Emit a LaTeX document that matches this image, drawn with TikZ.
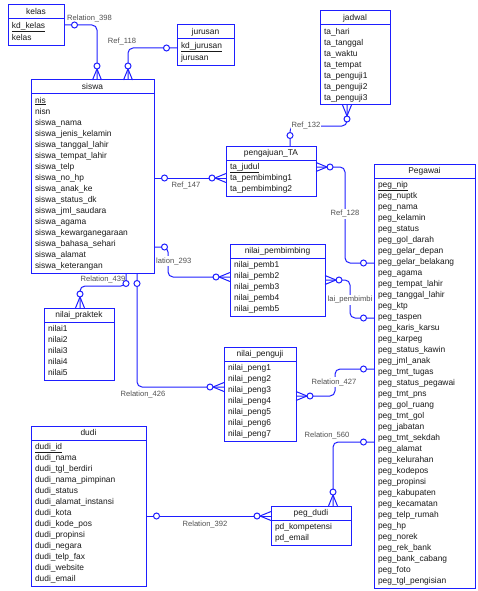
\documentclass[tikz,border=0pt]{standalone}
\usepackage{fontspec}
\setmainfont{Liberation Sans}
\usetikzlibrary{positioning}
\definecolor{erblue}{RGB}{30,30,255}
\definecolor{relgray}{RGB}{80,80,80}
\definecolor{txtgray}{RGB}{25,25,25}
\tikzset{
  enthead/.style={draw=erblue,line width=1pt,fill=white,inner sep=0pt,outer sep=0pt,minimum height=14pt,text height=6.3pt,text depth=1.9pt,text=txtgray,font=\fontsize{8.4}{11}\selectfont},
  entbody/.style={draw=erblue,line width=1pt,fill=white,inner xsep=4pt,inner ysep=1.5pt,outer sep=0pt,align=left,text=txtgray,font=\fontsize{8.4}{11}\selectfont},
  conn/.style={draw=erblue,line width=1pt,rounded corners=5pt},
  marker/.style={draw=erblue,line width=1pt},
  rellabel/.style={text=relgray,inner sep=1pt,font=\fontsize{7.6}{9}\selectfont},
  crowfoot/.pic={\draw[marker] (0,4.5) -- (11,0) -- (0,-4.5); \draw[marker,fill=white] (14,0) circle (3pt);},
  onemark/.pic={\draw[marker,fill=white] (10.5,0) circle (3pt);}
}
\begin{document}
\begin{tikzpicture}[x=1pt,y=-1pt]
            \useasboundingbox (0,0) rectangle (478,591);

            \node[enthead,minimum width=56pt,anchor=north] (kelas) at (36,5) {kelas};
            \node[entbody,text width=48pt,below=0pt of kelas] (kelasb) {\strut\underline{kd\_kelas}\\kelas\strut};

            \node[enthead,minimum width=57pt,anchor=north] (jurusan) at (205.5,25) {jurusan};
            \node[entbody,text width=49pt,below=0pt of jurusan] (jurusanb) {\strut\underline{kd\_jurusan}\\jurusan\strut};

            \node[enthead,minimum width=70pt,anchor=north] (jadwal) at (355,11) {jadwal};
            \node[entbody,text width=62pt,below=0pt of jadwal] (jadwalb) {\strut ta\_hari\\ta\_tanggal\\ta\_waktu\\ta\_tempat\\ta\_penguji1\\ta\_penguji2\\ta\_penguji3\strut};

            \node[enthead,minimum width=123pt,anchor=north] (siswa) at (92.5,80) {siswa};
            \node[entbody,text width=115pt,below=0pt of siswa] (siswab) {\strut\underline{nis}\\nisn\\siswa\_nama\\siswa\_jenis\_kelamin\\siswa\_tanggal\_lahir\\siswa\_tempat\_lahir\\siswa\_telp\\siswa\_no\_hp\\siswa\_anak\_ke\\siswa\_status\_dk\\siswa\_jml\_saudara\\siswa\_agama\\siswa\_kewarganegaraan\\siswa\_bahasa\_sehari\\siswa\_alamat\\siswa\_keterangan\strut};

            \node[enthead,minimum width=90pt,anchor=north] (pengajuan) at (271,146) {pengajuan\_TA};
            \node[entbody,text width=82pt,below=0pt of pengajuan] (pengajuanb) {\strut\underline{ta\_judul}\\ta\_pembimbing1\\ta\_pembimbing2\strut};

            \node[enthead,minimum width=101pt,anchor=north] (pegawai) at (424.5,164) {Pegawai};
            \node[entbody,text width=93pt,below=0pt of pegawai] (pegawaib) {\strut\underline{peg\_nip}\\peg\_nuptk\\peg\_nama\\peg\_kelamin\\peg\_status\\peg\_gol\_darah\\peg\_gelar\_depan\\peg\_gelar\_belakang\\peg\_agama\\peg\_tempat\_lahir\\peg\_tanggal\_lahir\\peg\_ktp\\peg\_taspen\\peg\_karis\_karsu\\peg\_karpeg\\peg\_status\_kawin\\peg\_jml\_anak\\peg\_tmt\_tugas\\peg\_status\_pegawai\\peg\_tmt\_pns\\peg\_gol\_ruang\\peg\_tmt\_gol\\peg\_jabatan\\peg\_tmt\_sekdah\\peg\_alamat\\peg\_kelurahan\\peg\_kodepos\\peg\_propinsi\\peg\_kabupaten\\peg\_kecamatan\\peg\_telp\_rumah\\peg\_hp\\peg\_norek\\peg\_rek\_bank\\peg\_bank\_cabang\\peg\_foto\\peg\_tgl\_pengisian\strut};

            \node[enthead,minimum width=95pt,anchor=north] (nilaipb) at (277.5,244) {nilai\_pembimbing};
            \node[entbody,text width=87pt,below=0pt of nilaipb] (nilaipbb) {\strut nilai\_pemb1\\nilai\_pemb2\\nilai\_pemb3\\nilai\_pemb4\\nilai\_pemb5\strut};

            \node[enthead,minimum width=70pt,anchor=north] (nilaiprk) at (79,308) {nilai\_praktek};
            \node[entbody,text width=62pt,below=0pt of nilaiprk] (nilaiprkb) {\strut nilai1\\nilai2\\nilai3\\nilai4\\nilai5\strut};

            \node[enthead,minimum width=72pt,anchor=north] (nilaipg) at (260,347) {nilai\_penguji};
            \node[entbody,text width=64pt,below=0pt of nilaipg] (nilaipgb) {\strut nilai\_peng1\\nilai\_peng2\\nilai\_peng3\\nilai\_peng4\\nilai\_peng5\\nilai\_peng6\\nilai\_peng7\strut};

            \node[enthead,minimum width=115pt,anchor=north] (dudi) at (88.5,426) {dudi};
            \node[entbody,text width=107pt,below=0pt of dudi] (dudib) {\strut\underline{dudi\_id}\\dudi\_nama\\dudi\_tgl\_berdiri\\dudi\_nama\_pimpinan\\dudi\_status\\dudi\_alamat\_instansi\\dudi\_kota\\dudi\_kode\_pos\\dudi\_propinsi\\dudi\_negara\\dudi\_telp\_fax\\dudi\_website\\dudi\_email\strut};

            \node[enthead,minimum width=80pt,anchor=north] (pegdudi) at (311,506) {peg\_dudi};
            \node[entbody,text width=72pt,below=0pt of pegdudi] (pegdudib) {\strut pd\_kompetensi\\pd\_email\strut};

            \draw[conn] (kelasb.east |- 0,25) -| (siswa.north -| 97,0);
            \node[rellabel] (l398) at (89.5,19) {Relation\_398};
            \draw[conn] (jurusanb.west |- 0,48) -| (siswa.north -| 128,0);
            \node[rellabel] (l118) at (122,42) {Ref\_118};
            \draw[conn] (jadwalb.south -| 347,0) -- ++(0,21) -| (pengajuan.north -| 290,0);
            \node[rellabel,fill=white] (l132) at (306,126) {Ref\_132};
            \draw[conn] (siswab.east |- 0,178) -- (pengajuanb.west |- 0,178);
            \node[rellabel] (l147) at (186,186) {Ref\_147};
            \draw[conn] (pengajuanb.east |- 0,167) -- ++(29,0) |- (pegawaib.west |- 0,263);
            \node[rellabel,fill=white] (l128) at (345,214) {Ref\_128};
            \draw[conn] (siswab.east |- 0,247) -- ++(14,0) |- (nilaipbb.west |- 0,277);
            \node[rellabel,fill=white,anchor=west] (l293) at (155,261) {lation\_293};
            \draw[conn] (nilaipbb.east |- 0,280) -- ++(25,0) |- (pegawaib.west |- 0,318);
            \node[rellabel,fill=white] (lpemb) at (350,300) {lai\_pembimbi};
            \draw[conn] (siswab.south -| 126,0) -- ++(0,13) -| (nilaiprk.north -| 80,0);
            \node[rellabel] (l439) at (103,279) {Relation\_439};
            \draw[conn] (siswab.south -| 137,0) |- (nilaipgb.west |- 0,387);
            \node[rellabel] (l426) at (143,394) {Relation\_426};
            \draw[conn] (nilaipgb.east |- 0,396) -- ++(39,0) |- (pegawaib.west |- 0,369);
            \node[rellabel,fill=white] (l427) at (334,382) {Relation\_427};
            \draw[conn] (pegawaib.west |- 0,442) -| (pegdudi.north -| 333,0);
            \node[rellabel] (l560) at (327,435) {Relation\_560};
            \draw[conn] (dudib.east |- 0,516) -- (pegdudi.west |- 0,516);
            \node[rellabel] (l392) at (205,524) {Relation\_392};

            \pic at (kelasb.east |- 0,25) {onemark};
            \pic[rotate=90] at (siswa.north -| 97,0) {crowfoot};
            \pic[rotate=180] at (jurusanb.west |- 0,48) {onemark};
            \pic[rotate=90] at (siswa.north -| 128,0) {crowfoot};
            \pic[rotate=-90] at (jadwalb.south -| 347,0) {crowfoot};
            \pic[rotate=90] at (pengajuan.north -| 290,0) {onemark};
            \pic at (siswab.east |- 0,178) {onemark};
            \pic[rotate=180] at (pengajuanb.west |- 0,178) {crowfoot};
            \pic at (pengajuanb.east |- 0,167) {crowfoot};
            \pic[rotate=180] at (pegawaib.west |- 0,263) {onemark};
            \pic at (siswab.east |- 0,247) {onemark};
            \pic[rotate=180] at (nilaipbb.west |- 0,277) {crowfoot};
            \pic at (nilaipbb.east |- 0,280) {crowfoot};
            \pic[rotate=180] at (pegawaib.west |- 0,318) {onemark};
            \pic[rotate=-90] at (siswab.south -| 126,0) {onemark};
            \pic[rotate=90] at (nilaiprk.north -| 80,0) {crowfoot};
            \pic[rotate=-90] at (siswab.south -| 137,0) {onemark};
            \pic[rotate=180] at (nilaipgb.west |- 0,387) {crowfoot};
            \pic at (nilaipgb.east |- 0,396) {crowfoot};
            \pic[rotate=180] at (pegawaib.west |- 0,369) {onemark};
            \pic[rotate=180] at (pegawaib.west |- 0,442) {onemark};
            \pic[rotate=90] at (pegdudi.north -| 333,0) {crowfoot};
            \pic at (dudib.east |- 0,516) {onemark};
            \pic[rotate=180] at (pegdudi.west |- 0,516) {crowfoot};
        \end{tikzpicture}
\end{document}
